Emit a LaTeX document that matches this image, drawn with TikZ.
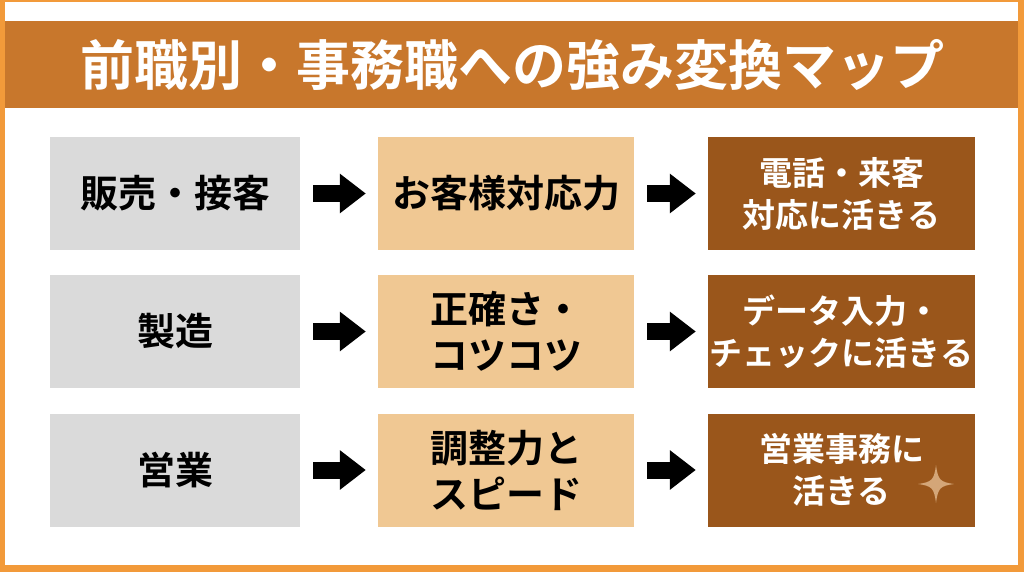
\documentclass[tikz,border=0pt]{standalone}
\usepackage{fontspec}
\setmainfont{Noto Sans CJK JP}[BoldFont={Noto Sans CJK JP Bold}]
\usetikzlibrary{arrows.meta, positioning}

\definecolor{frameorange}{HTML}{F29A3A}
\definecolor{titlebrown}{HTML}{C8772C}
\definecolor{oldgray}{HTML}{DADADA}
\definecolor{skilltan}{HTML}{F0C893}
\definecolor{usebrown}{HTML}{9A561B}
\definecolor{sparkcol}{HTML}{D4A678}

\tikzset{
    cell/.style={minimum height=113pt, inner sep=0pt, align=center,
        font=\fontsize{38}{46}\selectfont\bfseries},
    oldjob/.style={cell, fill=oldgray, minimum width=250pt},
    skill/.style={cell, fill=skilltan, minimum width=256pt},
    useit/.style={cell, fill=usebrown, text=white, minimum width=267pt,
        font=\fontsize{33}{42}\selectfont\bfseries},
    conv/.style={line width=17pt, -{Triangle[width=38pt, length=26pt]},
        shorten <=13pt, shorten >=12pt}
}

\begin{document}
\begin{tikzpicture}[x=1pt, y=-1pt]
        \useasboundingbox (0, 0) rectangle (1024, 572);
        % frame and title bar
        \fill[frameorange] (0, 0) rectangle (1024, 572);
        \fill[white] (5, 2) rectangle (1018, 565);
        \fill[titlebrown] (5, 21) rectangle (1018, 108);
        \node[text=white, font=\fontsize{54}{64}\selectfont\bfseries] (title) at (512, 65) {前職別・事務職への強み変換マップ};

        % row 1
        \node[oldjob] (job1) at (175, 193.5) {販売・接客};
        \node[skill] (skill1) at (506, 193.5) {お客様対応力};
        \node[useit] (use1) at (841.5, 193.5) {電話・来客\\対応に活きる};
        % row 2
        \node[oldjob] (job2) at (175, 331.5) {製造};
        \node[skill] (skill2) at (506, 331.5) {正確さ・\\コツコツ};
        \node[useit] (use2) at (841.5, 331.5) {データ入力・\\チェックに活きる};
        % row 3
        \node[oldjob] (job3) at (175, 470) {営業};
        \node[skill] (skill3) at (506, 470) {調整力と\\スピード};
        \node[useit] (use3) at (841.5, 470) {営業事務に\\活きる};

        \foreach \i in {1, 2, 3} {
            \draw[conv] (job\i) -- (skill\i);
            \draw[conv] (skill\i) -- (use\i);
        }

        % sparkle
        \fill[sparkcol] (936, 465) .. controls (938, 480) and (940, 482) .. (954, 484)
            .. controls (940, 486) and (938, 488) .. (936, 503)
            .. controls (934, 488) and (932, 486) .. (918, 484)
            .. controls (932, 482) and (934, 480) .. (936, 465);
    \end{tikzpicture}
\end{document}
